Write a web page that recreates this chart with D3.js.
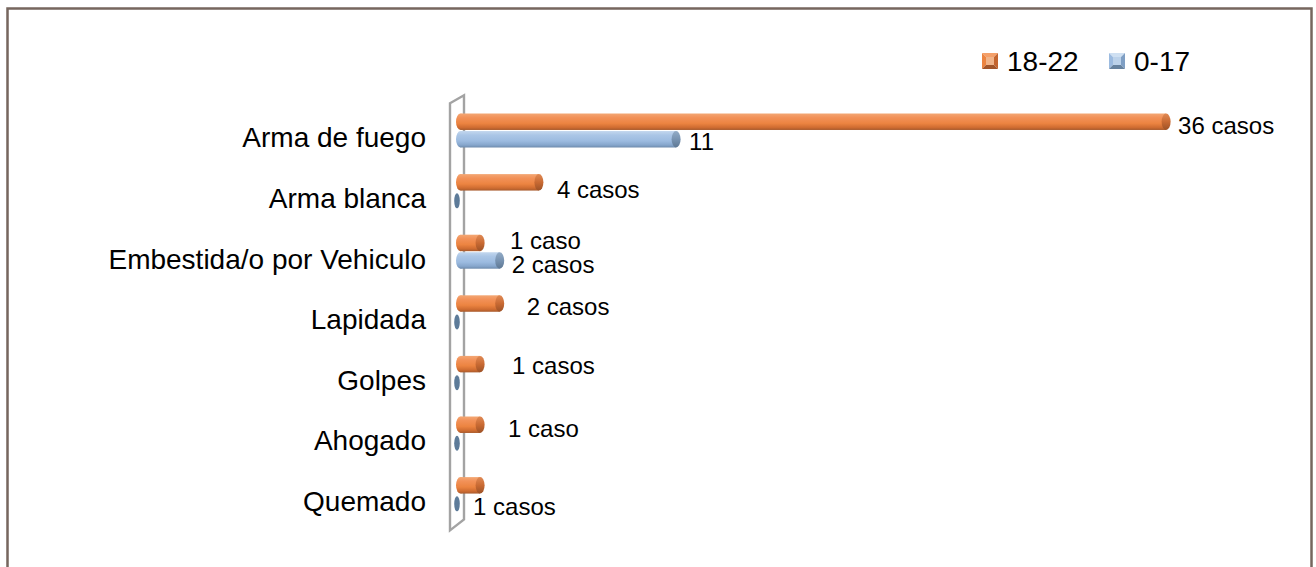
<!DOCTYPE html>
<html>
<head>
<meta charset="utf-8">
<script src="https://cdn.jsdelivr.net/npm/d3@7"></script>
<style>
body{margin:0;background:#fff;}
svg text{font-family:"Liberation Sans",Arial,sans-serif;fill:#000;}
</style>
</head>
<body>
<div id="chart"></div>
<script>

/*DATA*/
var categories = ["Arma de fuego","Arma blanca","Embestida/o por Vehiculo","Lapidada","Golpes","Ahogado","Quemado"];
var series = ["18-22","0-17"];
var values1822 = [36,4,1,2,1,1,1];
var values017 = [11,0,2,0,0,0,0];
var labels1822 = ["36 casos","4 casos","1 caso","2 casos","1 casos","1 caso","1 casos"];
var labels017 = ["11","","2 casos","","","",""];
var xDomain = [0,40];

// label nudges (layout only), [dx from bar end, dy from bar centre]
var nudge1822 = [[12,4],[18,7],[30,-2],[27,3],[32,1],[28,4],[-7,21]];
var nudge017 = [[13,2],[0,0],[12,4],[0,0],[0,0],[0,0],[0,0]];

var width = 1316, height = 567;

var svg = d3.select("#chart").append("svg")
    .attr("width", width)
    .attr("height", height);

var defs = svg.append("defs");

// cylinder shading
function grad(id, stops){
  var g = defs.append("linearGradient")
      .attr("id", id)
      .attr("x1",0).attr("y1",0).attr("x2",0).attr("y2",1);
  stops.forEach(function(s){
    g.append("stop").attr("offset", s[0]).attr("stop-color", s[1]);
  });
}
grad("g-orange", [[0,"#f3a774"],[0.25,"#f29158"],[0.6,"#ec8441"],[0.85,"#cf6c31"],[1,"#a85a2c"]]);
grad("g-orange-cap", [[0,"#e08a55"],[0.5,"#c96a33"],[1,"#9c5227"]]);
grad("g-blue", [[0,"#c3d7ee"],[0.25,"#abc6e6"],[0.6,"#9cbbe0"],[0.85,"#86a6cc"],[1,"#6d8aac"]]);
grad("g-blue-cap", [[0,"#93acc7"],[0.5,"#7893b1"],[1,"#5e7894"]]);

var fills = {"18-22": ["url(#g-orange)","url(#g-orange-cap)"], "0-17": ["url(#g-blue)","url(#g-blue-cap)"]};

// outer frame
svg.append("rect")
    .attr("x", 7.5).attr("y", 8.5)
    .attr("width", 1304).attr("height", 620)
    .attr("fill", "none")
    .attr("stroke", "#76665e")
    .attr("stroke-width", 2.5);

// scales
var x = d3.scaleLinear()
    .domain(xDomain)
    .range([460.5, 1244.5]);

var y0 = d3.scaleBand()
    .domain(categories)
    .range([100.2, 524.4]);

var y1 = d3.scaleBand()
    .domain(series)
    .range([0, 34])
    .paddingInner(0.06);

var r = y0.range();

// side wall of the 3d plot
var wall = [[x(0)-10.5, r[0]+3],[x(0)+3.5, r[0]-5],[x(0)+3.5, r[1]-5],[x(0)-10.5, r[1]+6]];
svg.append("path")
    .attr("d", "M" + wall.join("L") + "Z")
    .attr("fill", "#fff")
    .attr("stroke", "#a3a3a3")
    .attr("stroke-width", 2.4);

// build rows
var rows = categories.map(function(c,i){
  return {cat:c, vals:[
    {s:"18-22", v:values1822[i], label:labels1822[i], n:nudge1822[i]},
    {s:"0-17", v:values017[i], label:labels017[i], n:nudge017[i]}
  ]};
});

var g = svg.append("g");

var groups = g.selectAll(".cat")
    .data(rows)
  .enter().append("g")
    .attr("class", "cat")
    .attr("transform", function(d){ return "translate(0," + (y0(d.cat) + y0.bandwidth()/2 - 17) + ")"; });

var bars = groups.selectAll(".bar")
    .data(function(d){ return d.vals; })
  .enter().append("g")
    .attr("class", "bar");

bars.each(function(d){
  var el = d3.select(this);
  var h = y1.bandwidth();
  var top = y1(d.s);
  var cy = top + h/2;
  var rx = 4.5;
  if (d.v == 0){
    // empty bar: only the flat end is visible
    el.append("ellipse")
        .attr("cx", x(0)-3.5).attr("cy", cy+1)
        .attr("rx", 2.8).attr("ry", 7.5)
        .attr("fill", "#5d7b99");
    return;
  }
  el.append("ellipse")
      .attr("cx", x(0)).attr("cy", cy)
      .attr("rx", rx).attr("ry", h/2)
      .attr("fill", fills[d.s][0]);
  el.append("rect")
      .attr("x", x(0)).attr("y", top)
      .attr("width", x(d.v) - x(0)).attr("height", h)
      .attr("fill", fills[d.s][0]);
  el.append("ellipse")
      .attr("cx", x(d.v)).attr("cy", cy)
      .attr("rx", rx).attr("ry", h/2)
      .attr("fill", fills[d.s][1]);
});

// value labels
bars.filter(function(d){ return d.label != ""; })
  .append("text")
    .attr("x", function(d){ return x(d.v) + d.n[0]; })
    .attr("y", function(d){ return y1(d.s) + y1.bandwidth()/2 + d.n[1]; })
    .attr("dy", "0.35em")
    .style("font-size", "24px")
    .text(function(d){ return d.label; });

// category labels
g.selectAll(".cat-label")
    .data(categories)
  .enter().append("text")
    .attr("class", "cat-label")
    .attr("x", 426)
    .attr("y", function(d){ return y0(d) + y0.bandwidth()/2 + 7; })
    .attr("dy", "0.35em")
    .attr("text-anchor", "end")
    .style("font-size", "28px")
    .text(function(d){ return d; });

// legend
var legendColors = {"18-22": ["#f4a06a","#ec8441","#c4652f","#a2552a","#f0b48a"], "0-17": ["#cfe0f2","#9cbbe0","#7f9fc4","#66829f","#bcd2ea"]};
var legendX = [982, 1109];

var leg = svg.selectAll(".legend")
    .data(series)
  .enter().append("g")
    .attr("class", "legend")
    .attr("transform", function(d,i){ return "translate(" + legendX[i] + ",53)"; });

leg.each(function(d){
  var el = d3.select(this);
  var c = legendColors[d];
  var s = 16, k = 4;
  // bevelled square: four sloped sides and a flat top
  el.append("path").attr("d", "M0,0L"+s+",0L"+(s-k)+","+k+"L"+k+","+k+"Z").attr("fill", c[0]);
  el.append("path").attr("d", "M0,0L"+k+","+k+"L"+k+","+(s-k)+"L0,"+s+"Z").attr("fill", c[1]);
  el.append("path").attr("d", "M"+s+",0L"+s+","+s+"L"+(s-k)+","+(s-k)+"L"+(s-k)+","+k+"Z").attr("fill", c[2]);
  el.append("path").attr("d", "M0,"+s+"L"+k+","+(s-k)+"L"+(s-k)+","+(s-k)+"L"+s+","+s+"Z").attr("fill", c[3]);
  el.append("rect").attr("x", k).attr("y", k).attr("width", s-2*k).attr("height", s-2*k).attr("fill", c[4]);
});

leg.append("text")
    .attr("x", 25)
    .attr("y", 8)
    .attr("dy", "0.35em")
    .style("font-size", "28px")
    .text(function(d){ return d; });

</script>
</body>
</html>
